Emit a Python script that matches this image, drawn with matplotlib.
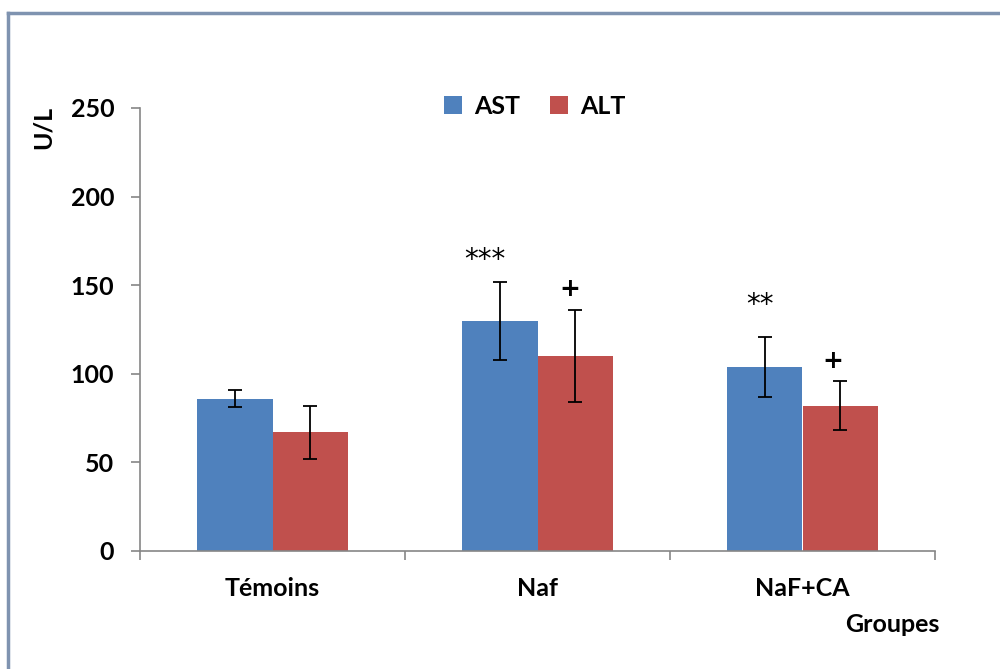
import matplotlib

matplotlib.use("Agg")
import matplotlib.pyplot as plt
import numpy as np
from matplotlib.lines import Line2D
from matplotlib.patches import Patch

plt.rcParams["font.family"] = ["Lato", "DejaVu Sans"]

groupes = ["Témoins", "Naf", "NaF+CA"]
ast = [86, 130, 104]
ast_err = [5, 22, 17]
alt = [67, 110, 82]
alt_err = [15, 26, 14]
ast_marks = ["", "***", "**"]
alt_marks = ["", "+", "+"]

BLUE = "#4F81BD"
RED = "#C0504D"
AXIS_GREY = "#868686"
FS = 18

fig = plt.figure(figsize=(10, 6.69), dpi=100)
ax = fig.add_axes([0.14, 0.1764, 0.795, 0.6622])

x = np.arange(len(groupes))
w = 0.285
err_kw = dict(ecolor="black", capsize=5, elinewidth=1.3, capthick=1.3)
ax.bar(x - w / 2, ast, w, yerr=ast_err, color=BLUE, error_kw=err_kw, label="AST")
ax.bar(x + w / 2, alt, w, yerr=alt_err, color=RED, error_kw=err_kw, label="ALT")

# significance marks above the bars
mark_x_ast = [0, 0.80, 1.84]
mark_y_ast = [0, 164, 139]
mark_x_alt = [0, 1.123, 2.115]
mark_y_alt = [0, 148, 107]
for i in range(len(groupes)):
    if ast_marks[i]:
        ax.text(mark_x_ast[i], mark_y_ast[i], ast_marks[i], ha="center", va="center",
                fontsize=20, family="DejaVu Sans")
    if alt_marks[i]:
        ax.text(mark_x_alt[i], mark_y_alt[i], alt_marks[i], ha="center", va="center",
                fontsize=18, fontweight="bold", family="DejaVu Sans")

ax.set_xlim(-0.5, 2.5)
ax.set_ylim(0, 250)
ax.set_yticks([0, 50, 100, 150, 200, 250])
ax.set_xticks(x, groupes)
ax.set_xticks([-0.5, 0.5, 1.5, 2.5], minor=True)
ax.tick_params(axis="x", which="major", length=0, pad=19, labelsize=FS)
ax.tick_params(axis="x", which="minor", length=6.5, width=1.2, color=AXIS_GREY)
ax.tick_params(axis="y", length=6.5, width=1.2, color=AXIS_GREY, pad=12, labelsize=FS)
for lab in ax.get_xticklabels() + ax.get_yticklabels():
    lab.set_fontweight("bold")

for side in ("top", "right"):
    ax.spines[side].set_visible(False)
for side in ("left", "bottom"):
    ax.spines[side].set_color(AXIS_GREY)
    ax.spines[side].set_linewidth(1.2)

fig.text(0.043, 0.81, "U/L", rotation=90, ha="center", va="center",
         fontsize=FS, fontweight="bold")
fig.text(0.94, 0.067, "Groupes", ha="right", va="center", fontsize=FS, fontweight="bold")

handles = [Patch(facecolor=BLUE, label="AST"), Patch(facecolor=RED, label="ALT")]
fig.legend(handles=handles, loc="center", bbox_to_anchor=(0.535, 0.841), ncol=2,
           frameon=False, prop={"size": FS, "weight": "bold"}, handlelength=0.7,
           handleheight=0.7, handletextpad=0.5, columnspacing=1.2)

# outer frame of the chart area
fig.add_artist(Line2D([0.008, 1.0], [0.980, 0.980], color="#7f93b0", lw=2.5))
fig.add_artist(Line2D([0.008, 0.008], [0.0, 0.980], color="#7f93b0", lw=2.5))

fig.savefig("out.png", dpi=100)
